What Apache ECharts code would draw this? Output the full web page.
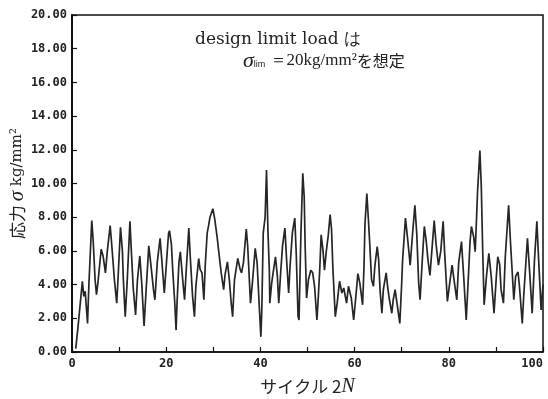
<!DOCTYPE html>
<html>
<head>
<meta charset="utf-8">
<script src="https://cdn.jsdelivr.net/npm/echarts@6/dist/echarts.min.js"></script>
<style>html,body{margin:0;padding:0;background:#fff;}#c{width:548px;height:399px;}</style>
</head>
<body>
<div id="c"></div>
<script>
const cycles = [0.8,1.35,1.7,2.2,2.5,2.8,3.3,3.6,4.2,4.5,4.9,5.2,5.5,6.2,6.6,7.1,7.5,8.1,8.4,9.0,9.5,9.8,10.3,10.7,10.9,11.3,11.7,12.3,12.6,13.0,13.5,13.9,14.4,14.8,15.3,15.7,16.3,16.7,17.3,17.6,18.1,18.7,19.0,19.6,20.5,20.7,21.1,21.4,21.8,22.1,22.3,22.7,23.0,23.5,23.9,24.2,24.8,25.1,25.6,26.0,26.3,26.9,27.2,27.6,28.0,28.3,28.7,29.0,29.3,29.9,30.3,30.8,31.3,31.7,32.2,32.5,33.0,33.4,33.8,34.1,34.5,35.2,35.7,36.0,36.4,37.0,37.3,37.9,38.3,38.9,39.3,39.8,40.1,40.3,40.6,41.0,41.3,41.6,41.9,42.0,42.4,42.7,43.2,43.6,43.9,44.3,44.7,45.2,45.6,46.0,46.3,46.8,47.3,47.6,48.0,48.2,48.6,49.0,49.3,49.5,49.8,50.2,50.7,51.1,51.5,52.0,52.3,52.6,52.9,53.3,53.6,54.0,54.4,54.8,55.1,55.4,55.9,56.3,56.8,57.3,57.7,58.3,58.7,59.3,59.8,60.2,60.7,61.1,61.7,62.0,62.2,62.6,62.9,63.2,63.6,64.0,64.3,64.8,65.1,65.4,65.8,66.1,66.7,67.0,67.4,67.9,68.2,68.6,69.0,69.6,70.0,70.2,70.8,71.3,71.8,72.3,72.8,73.2,73.6,73.9,74.3,74.8,75.2,75.6,76.0,76.4,76.9,77.3,77.8,78.3,78.8,79.1,79.7,80.2,80.7,81.2,81.7,82.1,82.7,83.2,83.7,84.2,84.5,84.8,85.3,85.6,85.9,86.1,86.6,86.9,87.2,87.5,88.0,88.5,89.0,89.6,90.1,90.4,90.8,91.1,91.6,92.0,92.7,93.1,93.8,94.2,94.7,95.0,95.6,95.9,96.7,97.2,97.7,98.2,98.7,99.0,99.6,100];
const stress = [0.2,1.7,1.8,4.2,3.3,3.6,1.7,4.1,7.8,6.6,4.3,3.4,4.1,6.1,5.7,4.7,6.0,7.5,6.5,4.3,2.9,4.5,7.4,6.0,4.3,2.1,4.1,7.75,6.0,3.8,2.2,4.3,5.7,4.1,1.55,3.5,6.3,5.3,3.7,3.1,5.3,6.75,5.7,3.5,7.05,7.2,6.4,4.8,3.0,1.3,2.9,5.3,5.95,4.3,3.1,4.6,7.35,5.7,3.3,2.1,3.9,5.55,4.9,4.7,3.1,5.2,7.05,7.5,8.0,8.5,7.9,6.85,5.6,4.65,3.7,4.6,5.35,4.3,2.9,2.1,4.3,5.55,4.9,4.7,5.3,7.3,6.3,2.9,4.1,6.15,5.3,2.5,0.9,2.5,7.05,8.0,10.8,7.2,4.8,2.9,4.1,4.7,5.65,4.5,2.9,4.7,6.3,7.35,5.3,3.5,5.1,7.1,7.95,5.9,2.1,1.9,7.0,10.6,9.2,6.3,3.2,4.3,4.85,4.7,3.9,1.9,3.3,4.9,6.95,6.0,4.85,6.0,6.9,8.15,7.3,4.9,2.1,2.9,4.2,3.5,3.8,2.9,3.9,3.2,1.9,3.1,4.65,4.1,2.8,5.1,7.6,9.4,8.0,6.5,4.3,3.9,5.1,6.25,5.5,3.7,2.3,3.7,4.7,3.9,3.1,2.3,3.1,3.7,2.9,1.7,4.1,5.5,7.95,6.6,5.15,7.0,8.7,7.0,4.1,3.1,5.1,7.45,6.6,5.4,4.55,6.0,7.8,6.4,5.15,6.0,7.75,6.0,3.0,4.1,5.15,4.1,3.1,5.3,6.55,4.3,1.9,4.7,6.5,7.45,6.8,5.95,8.0,9.5,11.95,9.8,6.0,2.8,4.5,5.85,4.5,2.3,4.5,5.65,5.2,3.7,2.9,5.7,8.7,6.5,3.1,4.5,4.75,3.9,1.7,3.3,6.75,4.6,2.3,5.5,7.75,5.9,2.5,4.0];
const xTickLabels = ['0','20','40','60','80','100'];
const yTickLabels = ['0.00','2.00','4.00','6.00','8.00','10.00','12.00','14.00','16.00','18.00','20.00'];

const chart = echarts.init(document.getElementById('c'), null, {renderer:'canvas'});
const tickFont = {fontFamily:'DejaVu Sans Mono', fontWeight:'bold', fontSize:12, color:'#222'};
chart.setOption({
  animation:false,
  backgroundColor:'#fff',
  grid:{left:72, right:5, top:15, bottom:47, containLabel:false, outerBoundsMode:'none', show:true, borderColor:'#111', borderWidth:1.5, backgroundColor:'transparent'},
  xAxis:{
    type:'value', min:0, max:100, interval:10,
    axisLine:{show:true, lineStyle:{color:'#111', width:1.5}},
    axisTick:{show:true, inside:true, length:5, lineStyle:{color:'#111', width:1.2}},
    splitLine:{show:false},
    axisLabel:Object.assign({margin:6, alignMaxLabel:'right', formatter:function(v){return v%20===0 ? xTickLabels[v/20] : '';}}, tickFont),
    name:'{a|サイクル 2}{b|N}', nameLocation:'middle', nameGap:25,
    nameTextStyle:{rich:{a:{fontFamily:'Noto Sans CJK JP', fontSize:17, color:'#222'}, b:{fontFamily:'Liberation Serif', fontStyle:'italic', fontSize:20, color:'#222'}}}
  },
  yAxis:{
    type:'value', min:0, max:20, interval:2,
    axisLine:{show:true, lineStyle:{color:'#111', width:2}},
    axisTick:{show:true, inside:true, length:5, lineStyle:{color:'#111', width:1.2}},
    splitLine:{show:false},
    axisLabel:Object.assign({margin:5, formatter:function(v){return yTickLabels[Math.round(v/2)];}}, tickFont),
    name:'{a|応力 }{b|σ}{c| kg/mm²}', nameLocation:'middle', nameGap:44, nameRotate:90, nameMoveOverlap:false,
    nameTextStyle:{rich:{a:{fontFamily:'Noto Sans CJK JP', fontSize:17, color:'#222'}, b:{fontFamily:'Liberation Serif', fontStyle:'italic', fontSize:21, color:'#222'}, c:{fontFamily:'DejaVu Serif', fontSize:15, color:'#222'}}}
  },
  series:[{
    type:'line', data:cycles.map((c,i)=>[c, stress[i]]), showSymbol:false, smooth:false,
    lineStyle:{color:'#262626', width:1.7}
  }],
  graphic:[
    {type:'text', left:195, top:31, style:{text:'design limit load は', font:'17px "DejaVu Serif"', fill:'#222'}},
    {type:'text', left:243, top:50, style:{
      text:'{s|σ}{l|lim}{t| ＝20kg/mm²}{j|を想定}',
      rich:{
        s:{fontFamily:'Liberation Serif', fontStyle:'italic', fontSize:22, fill:'#222', color:'#222'},
        l:{fontFamily:'Liberation Sans', fontSize:9, fill:'#222', color:'#222', padding:[7,0,0,0]},
        t:{fontFamily:'Liberation Serif', fontSize:17, fill:'#222', color:'#222'},
        j:{fontFamily:'Noto Sans CJK JP', fontSize:16, fill:'#222', color:'#222'}
      }
    }}
  ]
});
</script>
</body>
</html>
